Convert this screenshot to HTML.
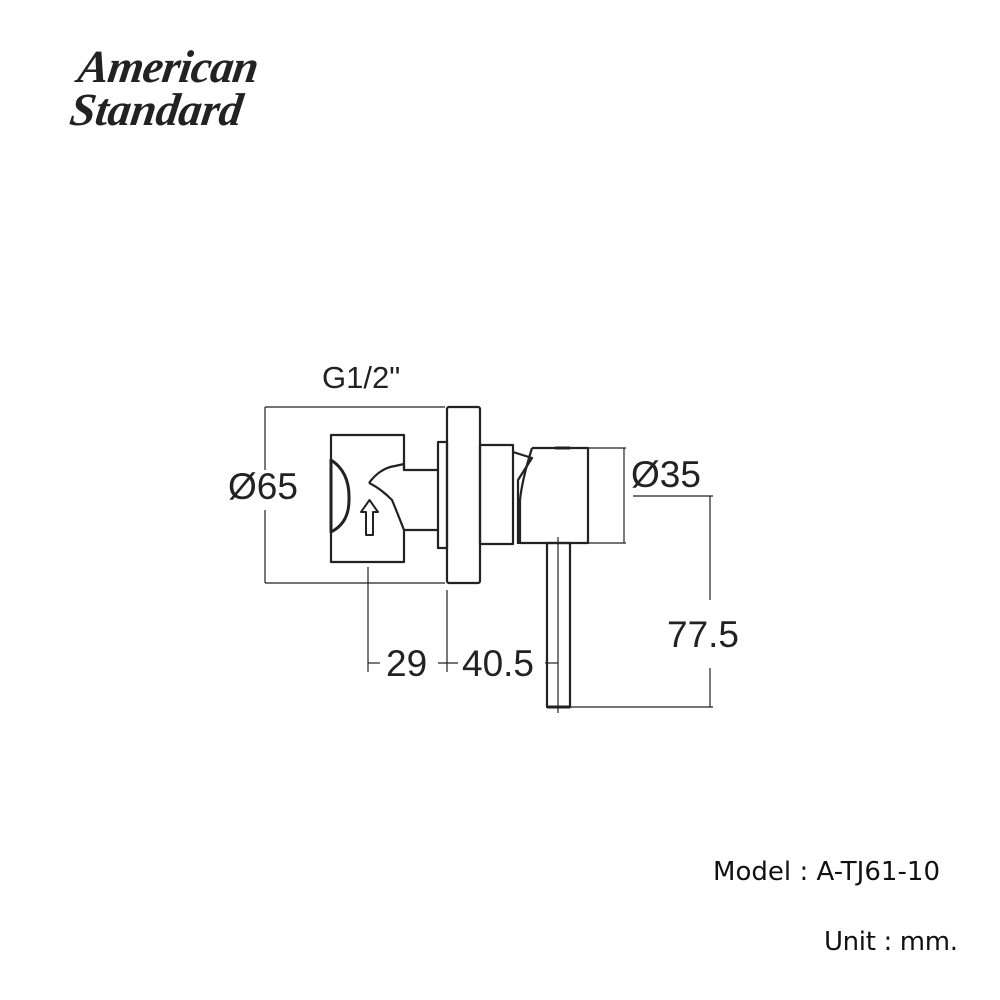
<!DOCTYPE html>
<html><head><style>
html,body{margin:0;padding:0;background:#fff;width:1000px;height:1000px;overflow:hidden}
</style></head><body>
<svg width="1000" height="1000" xmlns="http://www.w3.org/2000/svg">
<rect width="1000" height="1000" fill="#fff"/>
<g font-family="Liberation Serif, serif" font-style="italic" font-weight="bold" fill="#222">
<text x="78" y="82" font-size="46" textLength="180" transform="skewX(-8) translate(10,0)">American</text>
<text x="70" y="125" font-size="46" textLength="172" transform="skewX(-8) translate(16,0)">Standard</text>
</g>
<g fill="none" stroke="#222" stroke-width="1.2">
<line x1="265" y1="407" x2="445" y2="407"/>
<line x1="265" y1="583" x2="445" y2="583"/>
<line x1="265" y1="407" x2="265" y2="470"/>
<line x1="265" y1="510" x2="265" y2="583"/>
<line x1="368" y1="567" x2="368" y2="672"/>
<line x1="447" y1="590" x2="447" y2="672"/>
<line x1="368" y1="663" x2="380" y2="663"/>
<line x1="438" y1="663" x2="458" y2="663"/>
<line x1="545" y1="663" x2="558" y2="663"/>
<line x1="558" y1="537" x2="558" y2="713"/>
<line x1="588" y1="448" x2="626" y2="448"/>
<line x1="588" y1="543" x2="626" y2="543"/>
<line x1="624" y1="448" x2="624" y2="543"/>
<line x1="633" y1="496" x2="713" y2="496"/>
<line x1="710" y1="496" x2="710" y2="600"/>
<line x1="710" y1="668" x2="710" y2="707"/>
<line x1="570" y1="707" x2="713" y2="707"/>
</g>
<g fill="none" stroke="#222" stroke-width="2.2" stroke-linejoin="round">
<path d="M404 470 L404 435 L331 435 L331 562 L404 562 L404 530"/>
<path d="M331 460 Q350 472 349 500 Q349 523 331 532 Z" stroke-width="3"/>
<path d="M369 483 Q380 468 395 466 L404 464 L404 470 L438 470"/>
<path d="M369 483 Q380 488 392 500 Q397 512 404 530 L438 530"/>
<path d="M366 535 L366 512 L361 512 L369.5 500 L378 512 L373 512 L373 535 Z" stroke-width="2"/>
<rect x="438" y="442" width="9" height="106"/>
<rect x="447" y="407" width="33" height="176" rx="2"/>
<rect x="480" y="445" width="33" height="99"/>
<path d="M513 452 L532 458 L518 480 L518 544"/>
<path d="M532 448 L588 448 L588 543 L520 543 L520 500 Q522 480 532 448"/>
<line x1="555" y1="448" x2="570" y2="448" stroke-width="3"/>
<rect x="547" y="543" width="23" height="164"/>
<line x1="547" y1="707" x2="570" y2="707" stroke-width="3"/>
</g>
<g font-family="Liberation Sans, Arial, sans-serif" fill="#222">
<text x="322" y="388" font-size="31">G1/2"</text>
<text x="228" y="499" font-size="37">Ø65</text>
<text x="631" y="487" font-size="37">Ø35</text>
<text x="667" y="647" font-size="37">77.5</text>
<text x="386" y="676" font-size="37">29</text>
<text x="462" y="676" font-size="37">40.5</text>
</g>
<g font-family="DejaVu Sans, Verdana, sans-serif" fill="#111" font-size="26">
<text x="713" y="880" textLength="227">Model : A-TJ61-10</text>
<text x="824" y="950" textLength="134">Unit : mm.</text>
</g>
</svg>
</body></html>
